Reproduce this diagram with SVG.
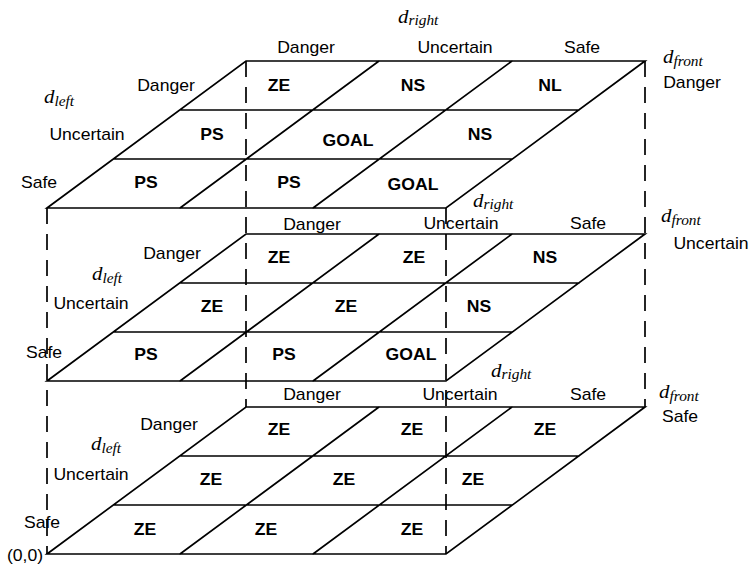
<svg xmlns="http://www.w3.org/2000/svg" width="752" height="569" viewBox="0 0 752 569">
<defs>
<style>
.g{fill:none;stroke:#000;stroke-width:1.7;stroke-linecap:round}
.d{fill:none;stroke:#000;stroke-width:1.7;stroke-dasharray:16 10}
.t{font-family:"Liberation Sans",Arial,sans-serif;font-size:16px;fill:#000;text-anchor:middle}
.b{font-family:"Liberation Sans",Arial,sans-serif;font-size:16px;font-weight:bold;fill:#000;text-anchor:middle}
.v{font-family:"Liberation Serif","Times New Roman",serif;font-style:italic;font-size:19px;fill:#000}
.s{font-size:14px}
</style>
<g id="grid">
<path class="g" d="M246,61H645L446,208H47Z M180,110H579 M113,159H512 M379,61L180,208 M512,61L313,208"/>
</g>
</defs>
<rect width="752" height="569" fill="#fff"/>
<g id="connectors">
<line class="d" x1="246" y1="61" x2="246" y2="407"/>
<line class="d" x1="645" y1="61" x2="645" y2="407"/>
<line class="d" x1="47" y1="208" x2="47" y2="554"/>
<line class="d" x1="446" y1="208" x2="446" y2="554"/>
</g>
<g id="layer-front-danger">
<use href="#grid"/>
<text class="v" transform="translate(398,23) scale(1.1,1)">d<tspan class="s" dy="2">right</tspan></text>
<text class="t" transform="translate(306,53) scale(1.1,1)">Danger</text>
<text class="t" transform="translate(455,53) scale(1.1,1)">Uncertain</text>
<text class="t" transform="translate(582,53) scale(1.1,1)">Safe</text>
<text class="v" transform="translate(663,63) scale(1.1,1)">d<tspan class="s" dy="3">front</tspan></text>
<text class="t" transform="translate(692,88) scale(1.1,1)">Danger</text>
<text class="v" transform="translate(44,103) scale(1.1,1)">d<tspan class="s" dy="3">left</tspan></text>
<text class="t" transform="translate(166,91) scale(1.1,1)">Danger</text>
<text class="t" transform="translate(87,140) scale(1.1,1)">Uncertain</text>
<text class="t" transform="translate(39,188) scale(1.1,1)">Safe</text>
<text class="b" transform="translate(279,91) scale(1.1,1)">ZE</text>
<text class="b" transform="translate(413,91) scale(1.1,1)">NS</text>
<text class="b" transform="translate(550,91) scale(1.1,1)">NL</text>
<text class="b" transform="translate(212,140) scale(1.1,1)">PS</text>
<text class="b" transform="translate(348,146) scale(1.1,1)">GOAL</text>
<text class="b" transform="translate(480,140) scale(1.1,1)">NS</text>
<text class="b" transform="translate(146,188) scale(1.1,1)">PS</text>
<text class="b" transform="translate(289,188) scale(1.1,1)">PS</text>
<text class="b" transform="translate(413,190) scale(1.1,1)">GOAL</text>
</g>
<g id="layer-front-uncertain">
<use href="#grid" y="173"/>
<text class="v" transform="translate(473,207) scale(1.1,1)">d<tspan class="s" dy="2">right</tspan></text>
<text class="t" transform="translate(312,230) scale(1.1,1)">Danger</text>
<text class="t" transform="translate(461,229) scale(1.1,1)">Uncertain</text>
<text class="t" transform="translate(588,229) scale(1.1,1)">Safe</text>
<text class="v" transform="translate(661,222) scale(1.1,1)">d<tspan class="s" dy="3">front</tspan></text>
<text class="t" transform="translate(711,249) scale(1.1,1)">Uncertain</text>
<text class="v" transform="translate(92,280) scale(1.1,1)">d<tspan class="s" dy="3">left</tspan></text>
<text class="t" transform="translate(172,259) scale(1.1,1)">Danger</text>
<text class="t" transform="translate(91,309) scale(1.1,1)">Uncertain</text>
<text class="t" transform="translate(44,358) scale(1.1,1)">Safe</text>
<text class="b" transform="translate(279,263) scale(1.1,1)">ZE</text>
<text class="b" transform="translate(414,263) scale(1.1,1)">ZE</text>
<text class="b" transform="translate(545,263) scale(1.1,1)">NS</text>
<text class="b" transform="translate(212,312) scale(1.1,1)">ZE</text>
<text class="b" transform="translate(346,312) scale(1.1,1)">ZE</text>
<text class="b" transform="translate(479,312) scale(1.1,1)">NS</text>
<text class="b" transform="translate(146,360) scale(1.1,1)">PS</text>
<text class="b" transform="translate(284,360) scale(1.1,1)">PS</text>
<text class="b" transform="translate(411,360) scale(1.1,1)">GOAL</text>
</g>
<g id="layer-front-safe">
<use href="#grid" y="346"/>
<text class="v" transform="translate(491,377) scale(1.1,1)">d<tspan class="s" dy="2">right</tspan></text>
<text class="t" transform="translate(312,400) scale(1.1,1)">Danger</text>
<text class="t" transform="translate(460,400) scale(1.1,1)">Uncertain</text>
<text class="t" transform="translate(588,400) scale(1.1,1)">Safe</text>
<text class="v" transform="translate(659,398) scale(1.1,1)">d<tspan class="s" dy="3">front</tspan></text>
<text class="t" transform="translate(680,422) scale(1.1,1)">Safe</text>
<text class="v" transform="translate(91,450) scale(1.1,1)">d<tspan class="s" dy="3">left</tspan></text>
<text class="t" transform="translate(169,430) scale(1.1,1)">Danger</text>
<text class="t" transform="translate(91,480) scale(1.1,1)">Uncertain</text>
<text class="t" transform="translate(42,528) scale(1.1,1)">Safe</text>
<text class="t" transform="translate(25,561) scale(1.1,1)">(0,0)</text>
<text class="b" transform="translate(279,435) scale(1.1,1)">ZE</text>
<text class="b" transform="translate(412,435) scale(1.1,1)">ZE</text>
<text class="b" transform="translate(545,435) scale(1.1,1)">ZE</text>
<text class="b" transform="translate(211,485) scale(1.1,1)">ZE</text>
<text class="b" transform="translate(344,485) scale(1.1,1)">ZE</text>
<text class="b" transform="translate(473,485) scale(1.1,1)">ZE</text>
<text class="b" transform="translate(145,535) scale(1.1,1)">ZE</text>
<text class="b" transform="translate(266,535) scale(1.1,1)">ZE</text>
<text class="b" transform="translate(412,535) scale(1.1,1)">ZE</text>
</g>
</svg>
